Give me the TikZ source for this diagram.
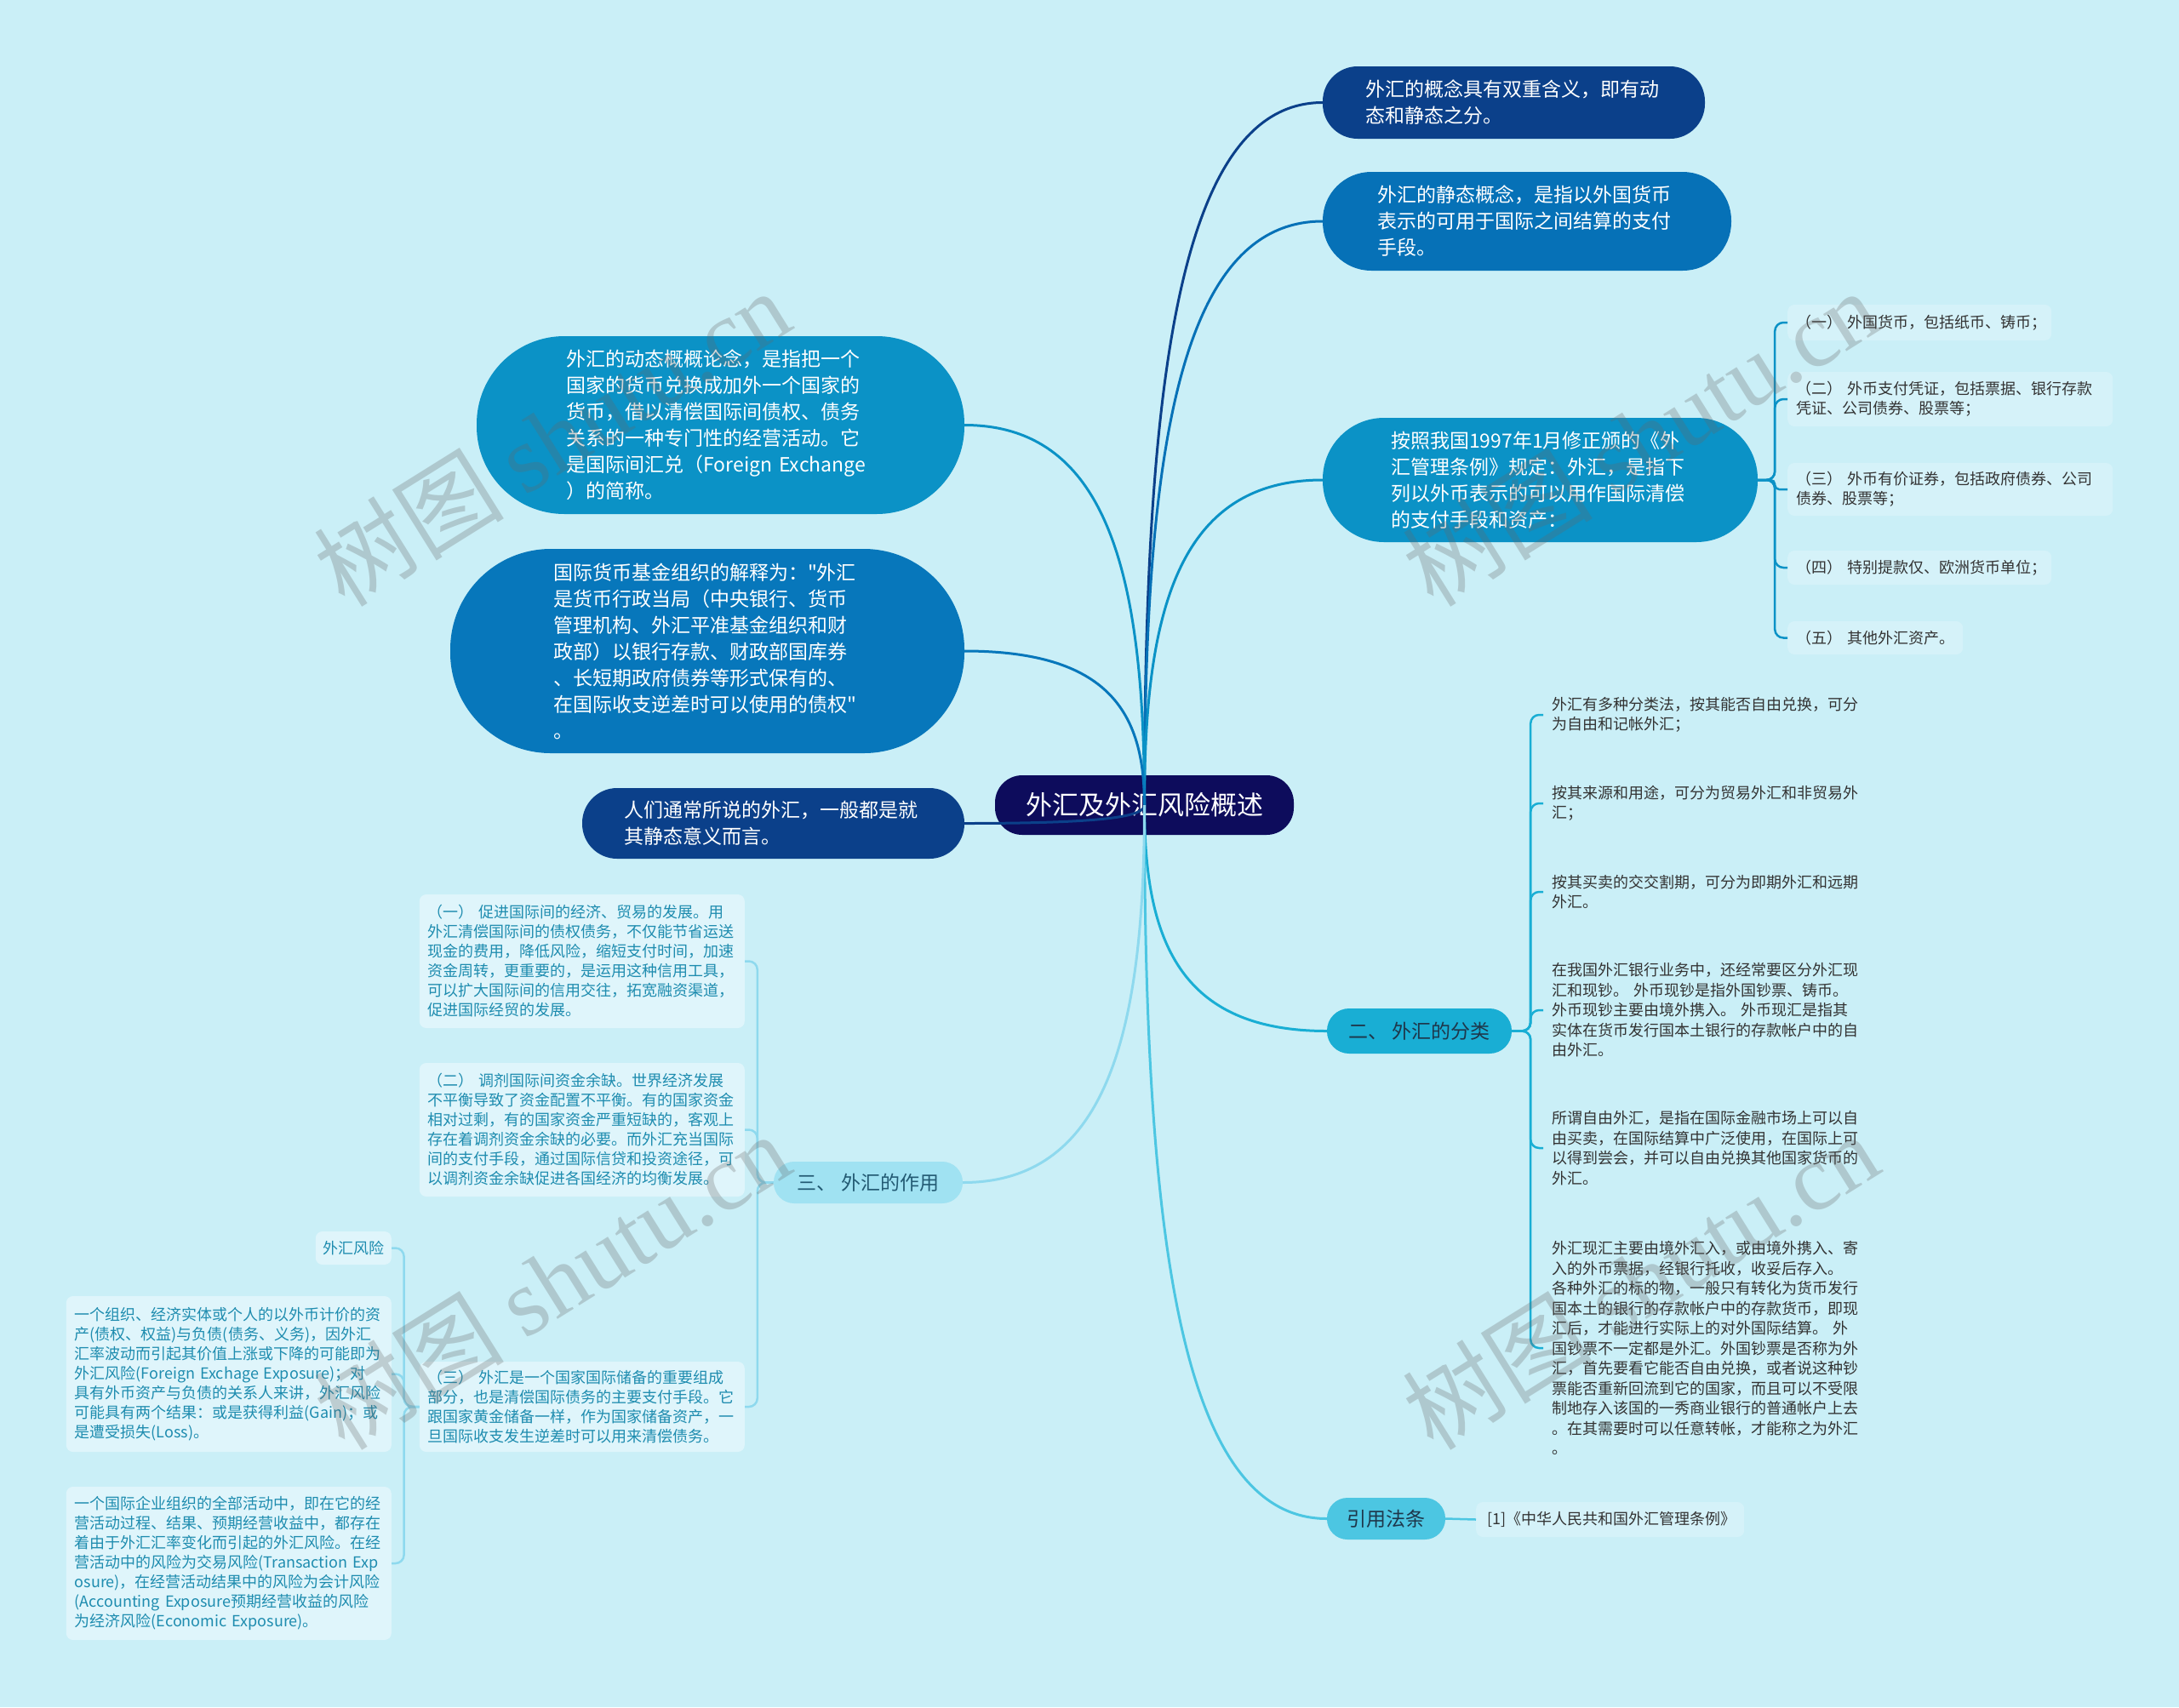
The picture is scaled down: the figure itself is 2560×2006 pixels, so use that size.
\documentclass[tikz,border=0pt]{standalone}
\usepackage{fontspec}
\setmainfont{Noto Sans CJK SC}
\newfontfamily\qfont{Noto Sans CJK SC}
\newfontfamily\wmfont{Liberation Serif}
\newcommand{\sq}{{\qfont"}}
\definecolor{bg}{RGB}{202,239,247}
\definecolor{cnavy}{RGB}{13,12,92}
\definecolor{cdark}{RGB}{11,64,138}
\definecolor{cmid}{RGB}{6,113,183}
\definecolor{cteal}{RGB}{11,146,198}
\definecolor{cimf}{RGB}{7,119,187}
\definecolor{ccyan}{RGB}{25,174,212}
\definecolor{cref}{RGB}{76,198,226}
\definecolor{clight}{RGB}{160,226,242}
\definecolor{cline3}{RGB}{142,217,238}
\definecolor{boxR}{RGB}{213,242,249}
\definecolor{boxL}{RGB}{223,245,251}
\definecolor{txtL}{RGB}{30,140,175}
\definecolor{txtD}{RGB}{51,51,51}
\definecolor{txtS}{RGB}{30,55,75}
\definecolor{txtT}{RGB}{35,90,115}
\tikzset{
  bigbub/.style={align=left, text=white, inner sep=0pt, font=\fontsize{23}{31}\selectfont},
  catbub/.style={align=center, inner sep=0pt, font=\fontsize{23}{28}\selectfont, text=txtS},
  rbox/.style={align=left, inner ysep=0pt, inner xsep=10pt, fill=boxR, rounded corners=8pt, text=txtD, font=\fontsize{18}{23.3}\selectfont, anchor=west},
  lbox/.style={align=left, inner ysep=0pt, inner xsep=10pt, fill=boxL, rounded corners=8pt, text=txtL, font=\fontsize{18}{23}\selectfont, anchor=east},
  plain/.style={align=left, inner ysep=0pt, inner xsep=10pt, text=txtD, font=\fontsize{18}{23.5}\selectfont, anchor=west, text width=364pt},
  conn/.style={line width=3pt},
  brk/.style={line width=2.5pt, rounded corners=10pt},
  wm/.style={text=black!60, text opacity=0.28, font=\fontsize{112}{120}\selectfont, rotate=32, inner sep=0pt}
}
\begin{document}
\begin{tikzpicture}[x=1pt,y=-1pt]
\fill[bg] (0,0) rectangle (2560,2006);
\useasboundingbox (0,0) rectangle (2560,2006);

% centre
\node[fill=cnavy, text=white, rounded corners=32pt, minimum width=351pt, minimum height=70pt, inner sep=0pt, font=\fontsize{31}{34}\selectfont] (C) at (1344.5,946) {外汇及外汇风险概述};

% right big bubbles
\node[bigbub, fill=cdark, rounded corners=41pt, minimum width=449pt, minimum height=85pt, text width=348pt] (n1) at (1778.5,120.5) {外汇的概念具有双重含义，即有动\\态和静态之分。};
\node[bigbub, fill=cmid, rounded corners=57pt, minimum width=480pt, minimum height=116pt, text width=351pt] (n2) at (1794,260) {外汇的静态概念，是指以外国货币\\表示的可用于国际之间结算的支付\\手段。};
\node[bigbub, fill=cteal, rounded corners=72pt, minimum width=511pt, minimum height=146pt, text width=351pt] (n3) at (1809.5,564) {按照我国1997年1月修正颁的《外\\汇管理条例》规定：外汇，是指下\\列以外币表示的可以用作国际清偿\\的支付手段和资产：};

% left big bubbles
\node[bigbub, fill=cteal, rounded corners=103pt, minimum width=573pt, minimum height=209pt, text width=362pt] (dyn) at (846.5,499.5) {外汇的动态概概论念，是指把一个\\国家的货币兑换成加外一个国家的\\货币，借以清偿国际间债权、债务\\关系的一种专门性的经营活动。它\\是国际间汇兑（Foreign~Exchange\\）的简称。};
\node[bigbub, fill=cimf, rounded corners=118pt, minimum width=604pt, minimum height=240pt, text width=362pt] (imf) at (831,765) {国际货币基金组织的解释为：\sq 外汇\\是货币行政当局（中央银行、货币\\管理机构、外汇平准基金组织和财\\政部）以银行存款、财政部国库券\\、长短期政府债券等形式保有的、\\在国际收支逆差时可以使用的债权\sq\\。};
\node[bigbub, fill=cdark, rounded corners=41pt, minimum width=449pt, minimum height=83pt, text width=351pt] (people) at (908.5,967.5) {人们通常所说的外汇，一般都是就\\其静态意义而言。};

% category bubbles
\node[catbub, fill=ccyan, rounded corners=26pt, minimum width=217pt, minimum height=53pt] (sec2) at (1667.5,1211.5) {二、~外汇的分类};
\node[catbub, fill=cref, rounded corners=24pt, minimum width=139pt, minimum height=49pt] (ref) at (1628.5,1784.5) {引用法条};
\node[catbub, fill=clight, text=txtT, rounded corners=24pt, minimum width=222pt, minimum height=49pt] (sec3) at (1020,1389.5) {三、~外汇的作用};

% n3 children
\node[rbox, text width=290pt, minimum height=42pt] (c31) at (2100,379) {（一）~外国货币，包括纸币、铸币；};
\node[rbox, text width=362pt, minimum height=64pt] (c32) at (2100,469) {（二）~外币支付凭证，包括票据、银行存款\\凭证、公司债券、股票等；};
\node[rbox, text width=362pt, minimum height=62pt] (c33) at (2100,575) {（三）~外币有价证券，包括政府债券、公司\\债券、股票等；};
\node[rbox, text width=290pt, minimum height=40pt] (c34) at (2100,667) {（四）~特别提款仅、欧洲货币单位；};
\node[rbox, text width=186pt, minimum height=39pt] (c35) at (2100,749.5) {（五）~其他外汇资产。};

% reference child
\node[rbox, text width=289pt, inner xsep=13pt, minimum height=41pt] (refc) at (1734,1785.5) {[1]《中华人民共和国外汇管理条例》};

% sec2 children
\node[plain] (b1) at (1813,840) {外汇有多种分类法，按其能否自由兑换，可分\\为自由和记帐外汇；};
\node[plain] (b2) at (1813,944) {按其来源和用途，可分为贸易外汇和非贸易外\\汇；};
\node[plain] (b3) at (1813,1048) {按其买卖的交交割期，可分为即期外汇和远期\\外汇。};
\node[plain] (b4) at (1813,1187) {在我国外汇银行业务中，还经常要区分外汇现\\汇和现钞。~外币现钞是指外国钞票、铸币。\\外币现钞主要由境外携入。~外币现汇是指其\\实体在货币发行国本土银行的存款帐户中的自\\由外汇。};
\node[plain] (b5) at (1813,1349) {所谓自由外汇，是指在国际金融市场上可以自\\由买卖，在国际结算中广泛使用，在国际上可\\以得到尝会，并可以自由兑换其他国家货币的\\外汇。};
\node[plain] (b6) at (1813,1584) {外汇现汇主要由境外汇入，或由境外携入、寄\\入的外币票据，经银行托收，收妥后存入。\\各种外汇的标的物，一般只有转化为货币发行\\国本土的银行的存款帐户中的存款货币，即现\\汇后，才能进行实际上的对外国际结算。~外\\国钞票不一定都是外汇。外国钞票是否称为外\\汇，首先要看它能否自由兑换，或者说这种钞\\票能否重新回流到它的国家，而且可以不受限\\制地存入该国的一秀商业银行的普通帐户上去\\。在其需要时可以任意转帐，才能称之为外汇\\。};

% sec3 children
\node[lbox, text width=362pt, minimum height=157pt] (a1) at (875,1129.5) {（一）~促进国际间的经济、贸易的发展。用\\外汇清偿国际间的债权债务，不仅能节省运送\\现金的费用，降低风险，缩短支付时间，加速\\资金周转，更重要的，是运用这种信用工具，\\可以扩大国际间的信用交往，拓宽融资渠道，\\促进国际经贸的发展。};
\node[lbox, text width=362pt, minimum height=157pt] (a2) at (875,1327.5) {（二）~调剂国际间资金余缺。世界经济发展\\不平衡导致了资金配置不平衡。有的国家资金\\相对过剩，有的国家资金严重短缺的，客观上\\存在着调剂资金余缺的必要。而外汇充当国际\\间的支付手段，通过国际信贷和投资途径，可\\以调剂资金余缺促进各国经济的均衡发展。};
\node[lbox, text width=362pt, minimum height=106pt] (a3) at (875,1653) {（三）~外汇是一个国家国际储备的重要组成\\部分，也是清偿国际债务的主要支付手段。它\\跟国家黄金储备一样，作为国家储备资产，一\\旦国际收支发生逆差时可以用来清偿债务。};

% a3 children
\node[lbox, text width=72pt, inner xsep=8.5pt, minimum height=39pt] (risk) at (460,1466.5) {外汇风险};
\node[lbox, text width=362pt, minimum height=183pt] (r1) at (460,1614.5) {一个组织、经济实体或个人的以外币计价的资\\产(债权、权益)与负债(债务、义务)，因外汇\\汇率波动而引起其价值上涨或下降的可能即为\\外汇风险(Foreign~Exchage~Exposure)；对\\具有外币资产与负债的关系人来讲，外汇风险\\可能具有两个结果：或是获得利益(Gain)；或\\是遭受损失(Loss)。};
\node[lbox, text width=362pt, minimum height=180pt] (r2) at (460,1837) {一个国际企业组织的全部活动中，即在它的经\\营活动过程、结果、预期经营收益中，都存在\\着由于外汇汇率变化而引起的外汇风险。在经\\营活动中的风险为交易风险(Transaction~Exp\\osure)，在经营活动结果中的风险为会计风险\\(Accounting~Exposure预期经营收益的风险\\为经济风险(Economic~Exposure)。};

% main connectors
\draw[conn, draw=cdark] (C.center) .. controls +(0,-496) and +(-169,0) .. (n1.west);
\draw[conn, draw=cmid] (C.center) .. controls +(0,-412) and +(-169,0) .. (n2.west);
\draw[conn, draw=cteal] (C.center) .. controls +(0,-229) and +(-169,0) .. (n3.west);
\draw[conn, draw=ccyan] (C.center) .. controls +(0,159) and +(-173,0) .. (sec2.west);
\draw[conn, draw=cref] (C.center) .. controls +(0,503) and +(-173,0) .. (ref.west);
\draw[conn, draw=cteal] (C.center) .. controls +(0,-268) and +(169,0) .. (dyn.east);
\draw[conn, draw=cimf] (C.center) .. controls +(0,-109) and +(169,0) .. (imf.east);
\draw[conn, draw=cdark] (C.center) .. controls +(0,13) and +(169,0) .. (people.east);
\draw[conn, draw=cline3] (C.center) .. controls +(0,266) and +(170,0) .. (sec3.east);

% brackets
\foreach \t in {c31,c32,c34,c35}{\draw[brk, draw=cteal] (n3.east) -- ++(20,0) |- (\t.west);}
\draw[brk, draw=cteal, rounded corners=5pt] (n3.east) -- ++(20,0) |- (c33.west);
\foreach \t in {b1,b2,b3,b4,b5,b6}{\draw[brk, draw=ccyan] (sec2.east) -- ++(22,0) |- (\t.west);}
\foreach \t in {a1,a2,a3}{\draw[brk, draw=cline3] (sec3.west) -- ++(-19,0) |- (\t.east);}
\foreach \t in {risk,r1,r2}{\draw[brk, draw=cline3] (a3.west) -- ++(-18,0) |- (\t.east);}
\draw[brk, draw=cref] (ref.east) -- (refc.west);

% watermarks
\node[wm] (wm1) at (648,514) {树图 {\wmfont shutu.cn}};
\node[wm] (wm2) at (1927,514) {树图 {\wmfont shutu.cn}};
\node[wm] (wm3) at (648,1505) {树图 {\wmfont shutu.cn}};
\node[wm] (wm4) at (1927,1505) {树图 {\wmfont shutu.cn}};
\end{tikzpicture}
\end{document}
